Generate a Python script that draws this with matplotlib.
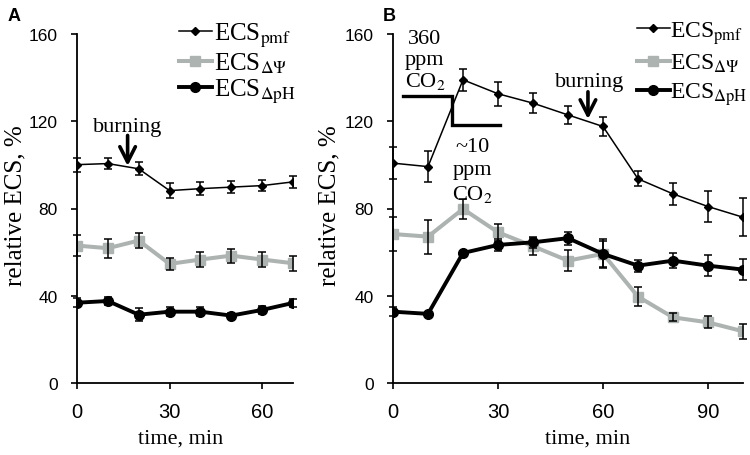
import matplotlib
matplotlib.use("Agg")
import matplotlib.pyplot as plt

# ---------------- data ----------------
time_a = [0, 10, 20, 30, 40, 50, 60, 70]
pmf_a = [100.1, 100.6, 98.2, 88.2, 89.1, 89.8, 90.5, 92.2]
pmf_a_err = [3.2, 2.7, 3.0, 3.4, 3.0, 2.7, 2.7, 2.7]
psi_a = [63.0, 61.8, 65.3, 54.6, 56.6, 58.4, 56.6, 54.9]
psi_a_err = [4.7, 4.4, 3.4, 2.7, 3.4, 3.2, 3.6, 3.4]
ph_a = [36.8, 37.6, 31.3, 32.7, 32.7, 30.9, 33.5, 36.7]
ph_a_err = [2.0, 1.7, 3.0, 2.0, 2.0, 1.2, 2.0, 2.0]

time_b = [0, 10, 20, 30, 40, 50, 60, 70, 80, 90, 100]
pmf_b = [100.8, 99.2, 139.0, 132.6, 128.3, 122.9, 117.6, 93.6, 86.7, 80.9, 76.0]
pmf_b_err = [7.3, 7.0, 5.0, 5.5, 4.5, 4.0, 4.5, 3.5, 5.0, 7.0, 8.7]
psi_b = [68.3, 67.1, 79.8, 69.1, 62.7, 56.1, 59.2, 39.6, 30.1, 27.8, 23.7]
psi_b_err = [7.8, 7.8, 4.5, 4.0, 4.0, 4.7, 6.6, 4.5, 1.8, 2.8, 3.5]
ph_b = [32.7, 31.7, 59.6, 63.3, 64.5, 66.4, 59.2, 53.8, 56.1, 53.8, 52.0]
ph_b_err = [2.0, 1.0, 1.0, 2.7, 2.5, 3.0, 6.0, 2.7, 3.4, 4.8, 5.0]

labels = [r"ECS$_{\mathrm{pmf}}$", r"ECS$_{\Delta\Psi}$", r"ECS$_{\Delta\mathrm{pH}}$"]
x_ticks_a = [0, 30, 60]
x_ticks_b = [0, 30, 60, 90]
y_ticks = [0, 40, 80, 120, 160]

# CO2 step annotation (panel B)
co2_step_x = [2.9, 16.9, 16.9, 30.6]
co2_step_y = [131.8, 131.8, 118.3, 118.3]

# ---------------- style ----------------
plt.rcParams["mathtext.fontset"] = "stix"
SERIF = "Liberation Serif"
SANS = "Liberation Sans"
GRAY = "#adb3b1"

fig = plt.figure(figsize=(7.5, 4.56), dpi=100)
W, H = 750, 456


def px_axes(x0, x1, ytop, ybot):
    return fig.add_axes([x0 / W, 1 - ybot / H, (x1 - x0) / W, (ybot - ytop) / H])


ax_a = px_axes(77, 293, 35, 384)
ax_b = px_axes(393, 743, 35, 384)


def draw(ax, t, pmf, pmf_e, psi, psi_e, ph, ph_e, xmax, xticks):
    ax.plot(t, psi, color=GRAY, lw=2.9, marker="s", ms=6.7, mec=GRAY, mfc=GRAY,
            label=labels[1], zorder=2)
    ax.plot(t, ph, color="black", lw=2.8, marker="o", ms=7, label=labels[2], zorder=3)
    ax.plot(t, pmf, color="black", lw=1.1, marker="D", ms=4.5, label=labels[0], zorder=4)
    for y, e in ((pmf, pmf_e), (psi, psi_e), (ph, ph_e)):
        ax.errorbar(t, y, yerr=e, fmt="none", ecolor="black", elinewidth=1.1,
                    capsize=3, capthick=1.1, zorder=5, clip_on=False)
    ax.set_xlim(0, xmax)
    ax.set_ylim(0, 160)
    ax.set_xticks(xticks)
    ax.set_yticks(y_ticks)
    for s in ("top", "right"):
        ax.spines[s].set_visible(False)
    for s in ("left", "bottom"):
        ax.spines[s].set_linewidth(1.3)
    ax.tick_params(direction="out", length=4, width=1.2)
    ax.tick_params(axis="y", pad=10, labelsize=12.5)
    ax.tick_params(axis="x", pad=10, labelsize=14.5)
    for lab in ax.get_xticklabels() + ax.get_yticklabels():
        lab.set_fontfamily(SANS)
    ax.set_ylabel("relative ECS, %", fontfamily=SERIF, fontsize=18)
    ax.set_xlabel("time, min", fontfamily=SERIF, fontsize=16, va="top")
    ax.patch.set_alpha(0)


draw(ax_a, time_a, pmf_a, pmf_a_err, psi_a, psi_a_err, ph_a, ph_a_err, 70, x_ticks_a)
draw(ax_b, time_b, pmf_b, pmf_b_err, psi_b, psi_b_err, ph_b, ph_b_err, 100, x_ticks_b)

ax_a.yaxis.set_label_coords(-0.236, 0.51)
ax_b.yaxis.set_label_coords(-0.149, 0.51)
ax_a.xaxis.set_label_coords(0.48, -0.13)
ax_b.xaxis.set_label_coords(0.556, -0.13)


def legend(ax, x_px, y_px, spacing, size, textpad):
    h, l = ax.get_legend_handles_labels()
    order = [2, 0, 1]
    leg = ax.legend([h[i] for i in order], [l[i] for i in order],
                    loc="upper left", bbox_to_anchor=(x_px / W, 1 - y_px / H),
                    bbox_transform=fig.transFigure, frameon=False,
                    prop={"family": SERIF, "size": size}, handlelength=1.3 * 18 / size,
                    handletextpad=textpad, labelspacing=spacing, borderaxespad=0,
                    borderpad=0)
    return leg


legend(ax_a, 179, 22, 0.08, 18, 0.1)
legend(ax_b, 637, 20, 0.26, 17, 0.04)

# burning annotations
ax_a.text(16.5, 117.4, "burning", ha="center", va="center", fontfamily=SERIF, fontsize=16)
ax_a.annotate("", xy=(16.4, 99.5), xytext=(16.4, 113.5),
              arrowprops=dict(arrowstyle="->,head_length=0.55,head_width=0.28",
                              lw=2.6, color="black", mutation_scale=20, shrinkA=0, shrinkB=0))
ax_b.text(56.3, 138.0, "burning", ha="center", va="center", fontfamily=SERIF, fontsize=16)
ax_b.annotate("", xy=(55.7, 121.0), xytext=(55.7, 133.5),
              arrowprops=dict(arrowstyle="->,head_length=0.55,head_width=0.28",
                              lw=2.6, color="black", mutation_scale=20, shrinkA=0, shrinkB=0))

# CO2 annotations
ax_b.plot(co2_step_x, co2_step_y, color="black", lw=2.4, solid_joinstyle="miter", zorder=6)
ax_b.text(9.1, 148.0, "360\nppm\nCO$_2$", ha="center", va="center", fontfamily=SERIF,
          fontsize=16, linespacing=1.1, clip_on=False)
ax_b.text(22.6, 97.5, "~10\nppm\nCO$_2$", ha="center", va="center", fontfamily=SERIF,
          fontsize=16, linespacing=1.25, clip_on=False)

# panel letters
fig.text(8 / W, 1 - 8 / H, "A", fontfamily=SANS, fontweight="bold", fontsize=13, va="top", ha="left")
fig.text(383 / W, 1 - 8 / H, "B", fontfamily=SANS, fontweight="bold", fontsize=13, va="top", ha="left")

fig.savefig("out.png", dpi=100)
